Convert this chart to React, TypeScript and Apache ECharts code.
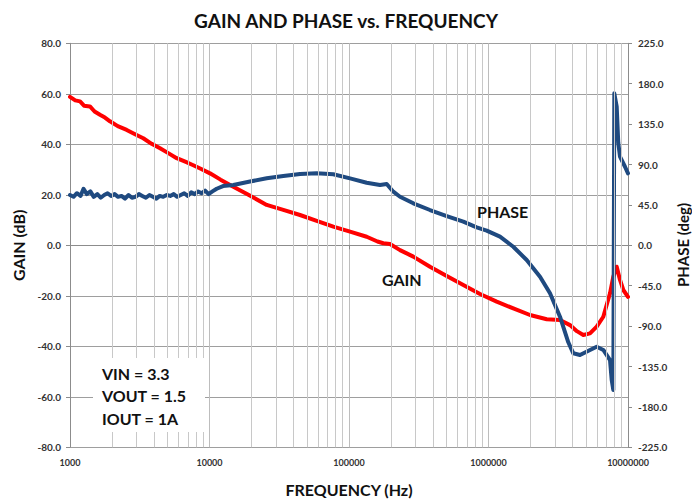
import React, { useEffect, useRef } from "react";
import * as echarts from "echarts";

// ---- data ----
const gainFreq = [
  1000, 1090, 1180, 1260, 1390, 1500, 1640, 1780, 1935, 2200, 2550, 2950, 3350, 3850, 4420, 5100,
  5820, 6700, 7650, 8800, 10080, 12000, 14810, 19000, 25700, 33800, 44540, 58700, 77200, 101700,
  133900, 160000, 176200, 196800, 232100, 289000, 380700, 501700, 659800, 869400, 1145000, 1506000,
  1984000, 2614000, 3254000, 3839000, 4300000, 4781000, 5341000, 5966000, 6653000, 7430000, 7847000,
  8299000, 8764000, 9254000, 10000000,
];
const gainDb = [
  58.8, 57.4, 57.0, 55.3, 55.0, 53.0, 51.7, 50.6, 49.1, 47.2, 45.7, 43.9, 42.4, 40.2, 38.4, 36.4,
  34.5, 33.1, 31.7, 30.1, 28.5, 26.0, 23.2, 20.0, 16.0, 14.0, 12.0, 9.7, 7.4, 5.4,
  3.4, 1.5, 0.8, 0.5, -1.9, -4.5, -8.5, -12.2, -15.7, -19.3, -22.3, -25.0,
  -27.6, -29.3, -29.6, -31.6, -34.0, -35.5, -34.9, -32.2, -28.3, -19.0, -12.4,
  -8.5, -13.7, -17.7, -20.4,
];

const phaseFreq = [
  1000, 1060, 1120, 1190, 1250, 1320, 1400, 1480, 1570, 1660, 1760, 1860, 1970, 2090, 2210, 2340,
  2480, 2630, 2780, 2950, 3120, 3300, 3500, 3710, 3930, 4160, 4400, 4660, 4940, 5230, 5540, 5870,
  6220, 6590, 6980, 7390, 7830, 8290, 8780, 9300, 9850, 10500, 11260, 12500, 14810, 19510, 25700,
  33810, 44540, 58690, 77200, 101700, 133900, 166800, 186300, 207800, 232100, 289000, 380700,
  501700, 659800, 823000, 970600, 1209000, 1506000, 1878000, 2340000, 2760000, 3254000, 3733000,
  4055000, 4529000, 5341000, 5966000, 6653000, 7430000, 7640000, 7847000, 7977000, 8299000,
  8519000, 8764000, 9516000, 10000000,
];
const phaseDeg = [
  56, 54, 58, 55, 63, 57, 60, 54, 57, 53, 56, 58, 55, 57, 54, 55,
  52, 56, 53, 54, 57, 55, 53, 56, 54, 52, 55, 54, 56, 55, 57, 54,
  56, 58, 55, 59, 57, 60, 58, 61, 57, 60, 63, 66, 67.2, 71.0, 74.6,
  77.2, 79.4, 80.2, 79.1, 74.6, 69.7, 67.2, 68.3, 59.7, 54.1, 46.8, 39.3,
  32.6, 26.4, 20.0, 16.4, 9.6, -1.6, -16.4, -35.0, -53.5, -79.5, -108,
  -120.3, -122.2, -116.6, -113, -116.6, -127.8, -150, -161.2, 169.3, 154.4,
  113.9, 98.7, 87.5, 80.2,
];

const decades = [1000, 10000, 100000, 1000000];
const minorSteps = [2, 3, 4, 5, 6, 7, 8, 9];
const noteLines = ["VIN = 3.3", "VOUT = 1.5", "IOUT = 1A"];

const FONT = "Lato, 'Open Sans', sans-serif";

export default function App() {
  const ref = useRef<HTMLDivElement>(null);
  useEffect(() => {
    if (!ref.current) return;
    const chart = echarts.init(ref.current, undefined, { renderer: "svg" });
    const gainData = gainFreq.map((f, i) => [f, gainDb[i]]);
    const phaseData = phaseFreq.map((f, i) => [f, phaseDeg[i]]);
    const minorGrid: number[] = [];
    decades.forEach((d) => minorSteps.forEach((s) => minorGrid.push(d * s)));

    const labelStyle = { fontFamily: FONT, fontSize: 10, fontWeight: "bold" as const, color: "#333" };
    const nameStyle = { fontFamily: FONT, fontSize: 16, fontWeight: "bold" as const, color: "#111" };

    chart.setOption({
      animation: false,
      backgroundColor: "#fff",
      title: {
        text: "GAIN AND PHASE vs. FREQUENCY",
        left: "center",
        top: 6,
        textStyle: { fontFamily: FONT, fontSize: 19, fontWeight: "bold", color: "#111" },
      },
      grid: { left: 70, right: 64, top: 43.3, bottom: 52.7, outerBoundsMode: "none", containLabel: false },
      xAxis: {
        type: "log",
        logBase: 10,
        min: 1000,
        max: 10000000,
        name: "FREQUENCY (Hz)",
        nameLocation: "middle",
        nameGap: 34,
        nameTextStyle: nameStyle,
        axisLine: { show: true, lineStyle: { color: "#8c8c8c", width: 1 } },
        axisTick: { show: true, length: 4, lineStyle: { color: "#8c8c8c" } },
        axisLabel: {
          ...labelStyle,
          fontSize: 9,
          margin: 11,
          formatter: (v: number) => String(Math.round(v)),
        },
        splitLine: { show: true, lineStyle: { color: "#bdbdbd", width: 1 } },
      },
      yAxis: [
        {
          type: "value",
          min: -80,
          max: 80,
          interval: 20,
          position: "left",
          name: "GAIN (dB)",
          nameLocation: "middle",
          nameRotate: 90,
          nameGap: 44,
          nameTextStyle: nameStyle,
          axisLine: { show: true, lineStyle: { color: "#8c8c8c", width: 1 } },
          axisTick: { show: true, length: 4, lineStyle: { color: "#8c8c8c" } },
          axisLabel: { ...labelStyle, margin: 9, formatter: (v: number) => v.toFixed(1) },
          splitLine: { show: true, lineStyle: { color: "#9e9e9e", width: 1 } },
        },
        {
          type: "value",
          min: -225,
          max: 225,
          interval: 45,
          position: "right",
          axisLine: { show: true, lineStyle: { color: "#8c8c8c", width: 1 } },
          axisTick: { show: true, length: 4, lineStyle: { color: "#8c8c8c" } },
          axisLabel: { ...labelStyle, margin: 10, formatter: (v: number) => v.toFixed(1) },
          splitLine: { show: false },
        },
      ],
      series: [
        {
          type: "line",
          name: "gridMinor",
          data: [],
          z: 1,
          silent: true,
          markLine: {
            silent: true,
            symbol: ["none", "none"],
            label: { show: false },
            lineStyle: { color: "#c8c8c8", width: 1, type: "solid" },
            data: minorGrid.map((f) => ({ xAxis: f })),
          },
        },
        {
          type: "line",
          name: "GAIN",
          yAxisIndex: 0,
          data: gainData,
          showSymbol: false,
          z: 3,
          lineStyle: { color: "#ff0000", width: 4, join: "round", cap: "round" },
          itemStyle: { color: "#ff0000" },
        },
        {
          type: "line",
          name: "PHASE",
          yAxisIndex: 1,
          data: phaseData,
          showSymbol: false,
          z: 4,
          lineStyle: { color: "#1f4a80", width: 4, join: "round", cap: "round" },
          itemStyle: { color: "#1f4a80" },
        },
      ],
      graphic: [
        {
          type: "text",
          z: 11,
          x: 683,
          y: 245,
          rotation: Math.PI / 2,
          style: {
            text: "PHASE (deg)",
            fontFamily: FONT,
            fontSize: 15,
            fontWeight: "bold",
            fill: "#111",
            align: "center",
            verticalAlign: "middle",
          },
        },
        {
          type: "rect",
          z: 10,
          shape: { x: 93, y: 358, width: 112, height: 74 },
          style: { fill: "#ffffff" },
        },
        ...noteLines.map((t, i) => ({
          type: "text",
          z: 11,
          x: 102,
          y: 373 + i * 22.5,
          style: {
            text: t,
            fontFamily: FONT,
            fontSize: 16,
            fontWeight: "bold",
            fill: "#111",
            verticalAlign: "middle",
            align: "left",
          },
        })),
        {
          type: "text",
          z: 11,
          x: 477,
          y: 211,
          style: { text: "PHASE", fontFamily: FONT, fontSize: 16, fontWeight: "bold", fill: "#111", verticalAlign: "middle" },
        },
        {
          type: "text",
          z: 11,
          x: 382,
          y: 279,
          style: { text: "GAIN", fontFamily: FONT, fontSize: 16, fontWeight: "bold", fill: "#111", verticalAlign: "middle" },
        },
      ],
    });
    return () => chart.dispose();
  }, []);
  return (
    <div
      ref={ref}
      style={{ position: "fixed", left: 0, top: 0, width: 692, height: 500, background: "#fff" }}
    />
  );
}
